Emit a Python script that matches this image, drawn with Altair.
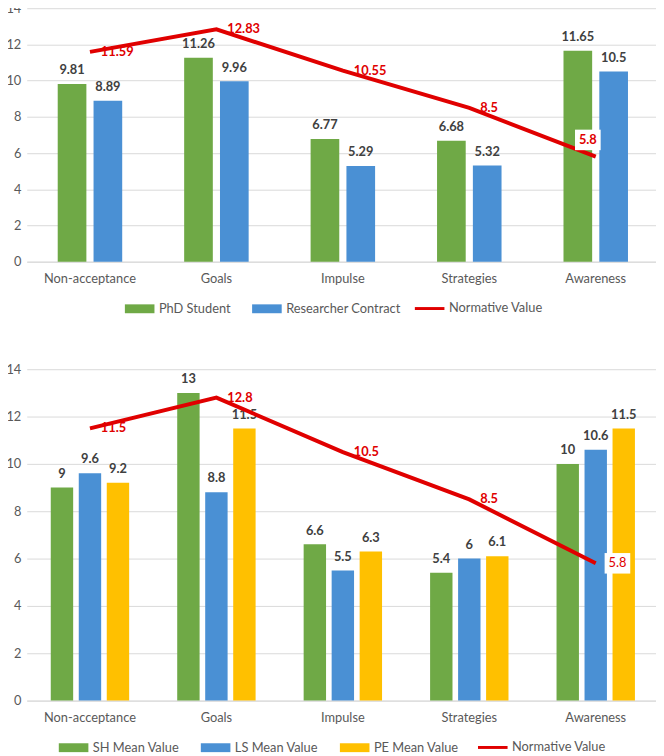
import altair as alt
import pandas as pd

categories = ["Non-acceptance", "Goals", "Impulse", "Strategies", "Awareness"]
norm_name = "Normative Value"

top_series = ["PhD Student", "Researcher Contract"]
phd = [9.81, 11.26, 6.77, 6.68, 11.65]
researcher = [8.89, 9.96, 5.29, 5.32, 10.5]
top_norm = [11.59, 12.83, 10.55, 8.5, 5.8]

bottom_series = ["SH Mean Value", "LS Mean Value", "PE Mean Value"]
sh = [9, 13, 6.6, 5.4, 10]
ls = [9.6, 8.8, 5.5, 6, 10.6]
pe = [9.2, 11.5, 6.3, 6.1, 11.5]
bottom_norm = [11.5, 12.8, 10.5, 8.5, 5.8]

GREEN = "#6FA946"
BLUE = "#4A90D4"
GOLD = "#FFC000"
RED = "#E00000"
GRID = "#D9D9D9"
AXIS_TXT = "#595959"
LBL_TXT = "#404040"
FONT = "Lato"


def fmt(v):
    return f"{v:g}"


def bar_frame(series_names, series_values):
    rows = []
    for name, vals in zip(series_names, series_values):
        for c, v in zip(categories, vals):
            rows.append({"category": c, "series": name, "value": v, "label": fmt(v)})
    return pd.DataFrame(rows)


def norm_frame(vals):
    return pd.DataFrame(
        {"category": categories, "series": norm_name, "value": vals, "label": [fmt(v) for v in vals]}
    )


def legend(x, y, symbol):
    return alt.Legend(
        title=None, orient="none", legendX=x, legendY=y, direction="horizontal",
        symbolSize=900, symbolType=symbol, labelFontSize=13, labelColor=AXIS_TXT,
        labelFont=FONT, labelOffset=3, columnPadding=20, padding=0,
        symbolStrokeWidth=3, symbolOpacity=1,
    )


def panel(series_names, series_values, colors, norm_vals, height, x_pad,
          bar_legend_x, line_legend_x, legend_y, last_dx, last_dy, last_bold):
    bdf = bar_frame(series_names, series_values)
    ndf = norm_frame(norm_vals)

    color = alt.Color("series:N", scale=alt.Scale(domain=series_names, range=colors),
                      legend=legend(bar_legend_x, legend_y, "M-1,-0.3H1V0.3H-1Z"))
    stroke = alt.Stroke("series:N", scale=alt.Scale(domain=[norm_name], range=[RED]),
                        legend=legend(line_legend_x, legend_y, "stroke"))

    x = alt.X(
        "category:N",
        sort=categories,
        scale=alt.Scale(paddingInner=x_pad, paddingOuter=x_pad / 2),
        axis=alt.Axis(title=None, ticks=False, labelAngle=0, domainColor=GRID, labelPadding=11,
                      labelColor=AXIS_TXT, labelFontSize=13, labelFont=FONT, grid=False),
    )
    y = alt.Y(
        "value:Q",
        scale=alt.Scale(domain=[0, 14]),
        axis=alt.Axis(title=None, values=[0, 2, 4, 6, 8, 10, 12, 14], domain=False, ticks=False,
                      gridColor=GRID, labelPadding=6, labelColor=AXIS_TXT, labelFontSize=13,
                      labelFont=FONT),
    )
    xo = alt.XOffset("series:N", sort=series_names, scale=alt.Scale(paddingInner=0.2, paddingOuter=0))

    bars = alt.Chart(bdf).mark_bar().encode(x=x, xOffset=xo, y=y, color=color)
    bar_labels = alt.Chart(bdf).mark_text(
        baseline="bottom", dy=-7, fontSize=13, fontWeight="bold", color=LBL_TXT, font=FONT
    ).encode(x=x, xOffset=xo, y=y, text="label:N")

    line = alt.Chart(ndf).mark_line(strokeWidth=4).encode(x=x, y=y, stroke=stroke)
    norm_labels = alt.Chart(ndf).transform_filter(
        alt.datum.category != categories[-1]
    ).mark_text(align="left", baseline="middle", dx=11, fontSize=13, fontWeight="bold",
                color=RED, font=FONT).encode(x=x, y=y, text="label:N")
    last = ndf[ndf["category"] == categories[-1]]
    box = alt.Chart(last).mark_point(
        shape="M-1,-0.8H1V0.8H-1Z", size=676, filled=True, fill="white", opacity=1,
        strokeWidth=0, xOffset=last_dx, yOffset=last_dy
    ).encode(x=x, y=y)
    last_label = alt.Chart(last).mark_text(
        align="center", baseline="middle", dx=last_dx, dy=last_dy, fontSize=13,
        fontWeight="bold" if last_bold else "normal", color=RED, font=FONT
    ).encode(x=x, y=y, text="label:N")

    return alt.layer(bars, bar_labels, line, norm_labels, box, last_label).properties(
        width=641, height=height
    )


top = panel(top_series, [phd, researcher], [GREEN, BLUE], top_norm, 257, 0.49,
            98, 392, 288, -8, -17, True)
bottom = panel(bottom_series, [sh, ls, pe], [GREEN, BLUE, GOLD], bottom_norm, 336, 0.38,
               31, 456, 367, 22, 0, False)

chart = alt.vconcat(top, bottom, spacing=48).resolve_scale(
    color="independent", stroke="independent", x="independent", y="independent",
    xOffset="independent"
).properties(
    padding={"left": -3, "top": -11, "right": -3, "bottom": 0}
).configure(font=FONT).configure_view(stroke=None)

chart.save("out.html", embed_options={"renderer": "svg", "actions": False})
